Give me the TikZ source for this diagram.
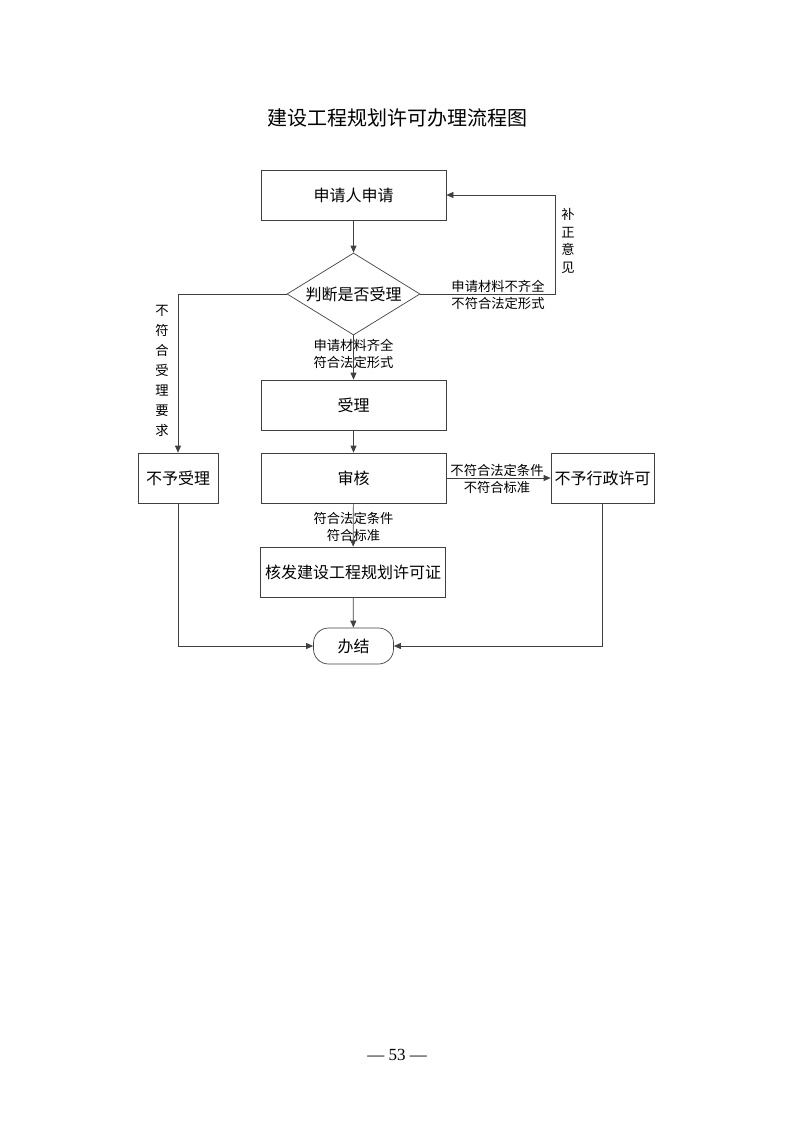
\documentclass[tikz,border=0pt]{standalone}
\usepackage{fontspec}
\newfontfamily\cjk{Noto Sans CJK SC}
\setmainfont{Liberation Serif}
\usetikzlibrary{shapes.geometric,arrows.meta}
\begin{document}
\begin{tikzpicture}[x=1pt,y=-1pt,
  line/.style={draw=black!75,line width=0.7pt},
  arr/.style={line,-{Triangle[length=7pt,width=6pt]}},
  box/.style={line,rectangle,minimum height=50pt,inner sep=0pt,font=\cjk\fontsize{16}{19}\selectfont},
  lbl/.style={font=\cjk\fontsize{13.3}{16.5}\selectfont,inner sep=0pt,align=center},
  vlbl/.style={font=\cjk\fontsize{13.3}{20}\selectfont,inner sep=0pt,align=center}]
\useasboundingbox (0,0) rectangle (793,1122);
\node[font=\cjk\fontsize{20}{24}\selectfont] (title) at (397,118) {建设工程规划许可办理流程图};
\node[box,minimum width=185pt] (apply) at (353.5,195) {申请人申请};
\node[line,diamond,aspect=1.62,minimum width=133pt,minimum height=82pt,inner sep=0pt,font=\cjk\fontsize{16}{19}\selectfont] (judge) at (353.5,294) {判断是否受理};
\node[box,minimum width=185pt] (accept) at (353.5,405) {受理};
\node[box,minimum width=185pt] (review) at (353.5,478) {审核};
\node[box,minimum width=80pt] (reject) at (178,478) {不予受理};
\node[box,minimum width=103pt] (deny) at (602.5,478) {不予行政许可};
\node[box,minimum width=185pt] (issue) at (353,572) {核发建设工程规划许可证};
\node[line,rounded corners=15pt,minimum width=80pt,minimum height=36pt,inner sep=0pt,font=\cjk\fontsize{16}{19}\selectfont] (done) at (353.5,646) {办结};
\coordinate (lt) at (178,294);
\coordinate (rt) at (555,294);
\coordinate (rt2) at (555,195);
\coordinate (lb) at (178,646);
\coordinate (rb) at (602.5,646);
\draw[arr] (apply) -- (judge);
\draw[arr] (judge.west) -- (lt) -- (reject);
\draw[arr] (judge.east) -- (rt) -- (rt2) -- (apply.east);
\draw[arr] (judge.south) -- (accept);
\draw[arr] (accept) -- (review);
\draw[arr] (review) -- (deny);
\draw[arr] (review) -- (issue);
\draw[arr] (issue) -- (done);
\draw[arr] (reject) -- (lb) -- (done.west);
\draw[arr] (deny) -- (rb) -- (done.east);
\node[lbl] (l1) at (498,295) {申请材料不齐全\\不符合法定形式};
\node[vlbl] (l2) at (568,241) {补\\[-2.6pt]正\\[-2.6pt]意\\[-2.6pt]见};
\node[vlbl] (l3) at (162,371) {不\\符\\合\\受\\理\\要\\求};
\node[lbl] (l4) at (353.5,354) {申请材料齐全\\符合法定形式};
\node[lbl] (l5) at (497,470) {不符合法定条件};
\node[lbl] (l6) at (497,487) {不符合标准};
\node[lbl] (l7) at (353.5,527) {符合法定条件\\符合标准};
\node[font=\fontsize{17}{20}\selectfont] (page) at (397,1055) {— 53 —};
\end{tikzpicture}
\end{document}
